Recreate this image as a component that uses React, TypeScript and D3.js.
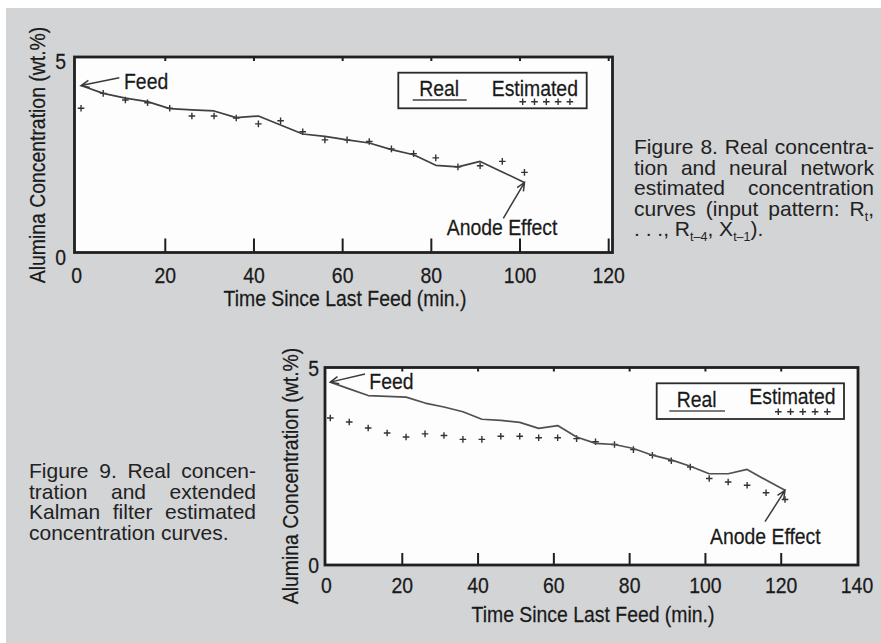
import { useEffect, useRef } from "react";
import * as d3 from "d3";

const W = 881;
const H = 643;

// Figure 8: neural network estimate (minutes since last feed, wt.% alumina)
const fig8Minutes = [1, 6, 11, 16, 21, 26, 31, 36, 41, 46, 51, 56, 61, 66, 71, 76, 81, 86, 91, 96, 101];
const fig8Real = [4.27, 4.07, 3.95, 3.86, 3.68, 3.65, 3.62, 3.45, 3.49, 3.26, 3.03, 2.97, 2.88, 2.8, 2.63, 2.5, 2.23, 2.19, 2.33, 2.06, 1.79];
const fig8Estimated = [3.69, 4.07, 3.9, 3.83, 3.69, 3.49, 3.49, 3.44, 3.29, 3.37, 3.09, 2.88, 2.88, 2.84, 2.65, 2.53, 2.42, 2.19, 2.22, 2.33, 2.05];
const fig8XTicks = [0, 20, 40, 60, 80, 100, 120];

// Figure 9: extended Kalman filter estimate
const fig9Minutes = [1, 6, 11, 16, 21, 26, 31, 36, 41, 46, 51, 56, 61, 66, 71, 76, 81, 86, 91, 96, 101, 106, 111, 116, 121];
const fig9Real = [4.63, 4.46, 4.29, 4.27, 4.25, 4.1, 4.0, 3.88, 3.69, 3.66, 3.61, 3.46, 3.53, 3.24, 3.08, 3.05, 2.95, 2.78, 2.66, 2.5, 2.31, 2.31, 2.42, 2.15, 1.89];
const fig9Estimated = [3.72, 3.62, 3.47, 3.34, 3.24, 3.32, 3.28, 3.18, 3.18, 3.26, 3.26, 3.22, 3.22, 3.2, 3.12, 3.05, 2.92, 2.78, 2.64, 2.48, 2.19, 2.1, 2.02, 1.83, 1.66];
const fig9XTicks = [0, 20, 40, 60, 80, 100, 120, 140];

const yTicks = [0, 5];

const xTitle = "Time Since Last Feed (min.)";
const yTitle = "Alumina Concentration (wt.%)";
const legendLabels = ["Real", "Estimated"];

const fig8Caption = [
  "Figure 8. Real concentra-",
  "tion and neural network",
  "estimated concentration",
  "curves (input pattern: R_{t},",
  ". . ., R_{t\u20134}, X_{t\u20131}).",
];
const fig9Caption = [
  "Figure 9. Real concen-",
  "tration and extended",
  "Kalman filter estimated",
  "concentration curves.",
];

const FONT = "'Liberation Sans', Arial, Helvetica, sans-serif";
const INK = "#1a1a1a";
const SQUEEZE = 0.87;
const CHART_FONT = 22.3;

type Pt = [number, number];
type Panel = {
  minutes: number[];
  real: number[];
  estimated: number[];
  xTicks: number[];
  box: { x0: number; x1: number; y0: number; y1: number };
  xRange: [number, number];
  tickLen: number;
  tickLabelY: number;
  xTitleAt: Pt;
  yTitleAt: Pt;
  yTickX: number;
  yTickDy: number;
  lineColor: string;
  legend: {
    rect: [number, number, number, number];
    realAt: Pt;
    sample: [number, number, number];
    estAt: Pt;
    crossX0: number;
    crossDx: number;
    crossY: number;
  };
  feed: { tail: Pt; text: Pt };
  anode: { tail: Pt; text: Pt };
};

const fig8Panel: Panel = {
  minutes: fig8Minutes,
  real: fig8Real,
  estimated: fig8Estimated,
  xTicks: fig8XTicks,
  box: { x0: 74.5, x1: 612.5, y0: 57, y1: 252.5 },
  xRange: [76.6, 608.7],
  tickLen: 14,
  tickLabelY: 283,
  xTitleAt: [345, 306],
  yTitleAt: [45, 155],
  yTickX: 66,
  yTickDy: 12,
  lineColor: "#404040",
  legend: {
    rect: [398.3, 72.7, 188.4, 35.6],
    realAt: [419.3, 96],
    sample: [412.7, 466.7, 100],
    estAt: [491.7, 96],
    crossX0: 522.7,
    crossDx: 11.8,
    crossY: 101.7,
  },
  feed: { tail: [119.3, 77.7], text: [124, 89] },
  anode: { tail: [503.3, 218.3], text: [446.7, 235] },
};

const fig9Panel: Panel = {
  minutes: fig9Minutes,
  real: fig9Real,
  estimated: fig9Estimated,
  xTicks: fig9XTicks,
  box: { x0: 325, x1: 858, y0: 367.5, y1: 565 },
  xRange: [326.5, 857],
  tickLen: 12,
  tickLabelY: 593,
  xTitleAt: [593, 622],
  yTitleAt: [298, 476],
  yTickX: 319,
  yTickDy: 8,
  lineColor: "#505050",
  legend: {
    rect: [656.7, 383.3, 187.3, 35.7],
    realAt: [676.7, 406.7],
    sample: [669.3, 725, 411],
    estAt: [749.3, 403.5],
    crossX0: 778.3,
    crossDx: 12.25,
    crossY: 411.7,
  },
  feed: { tail: [365, 374], text: [369.3, 389.3] },
  anode: { tail: [765, 521.7], text: [710, 544] },
};

type Sel = d3.Selection<any, unknown, null, undefined>;

function chartText(g: Sel, text: string, at: Pt, anchor: string, rotate = 0) {
  g.append("text")
    .attr(
      "transform",
      `translate(${at[0]},${at[1]})${rotate ? ` rotate(${rotate})` : ""} scale(${SQUEEZE},1)`
    )
    .attr("text-anchor", anchor)
    .attr("font-family", FONT)
    .attr("font-size", CHART_FONT)
    .attr("fill", INK)
    .attr("stroke", INK)
    .attr("stroke-width", 0.25)
    .text(text);
}

function crossPath(x: number, y: number, s: number) {
  return `M${x - s},${y}H${x + s}M${x},${y - s}V${y + s}`;
}

function arrow(g: Sel, tail: Pt, tip: Pt) {
  const ang = Math.atan2(tip[1] - tail[1], tip[0] - tail[0]);
  const len = 9;
  const spread = 0.42;
  const p = d3.path();
  p.moveTo(tail[0], tail[1]);
  p.lineTo(tip[0], tip[1]);
  p.moveTo(tip[0] - len * Math.cos(ang - spread), tip[1] - len * Math.sin(ang - spread));
  p.lineTo(tip[0], tip[1]);
  p.lineTo(tip[0] - len * Math.cos(ang + spread), tip[1] - len * Math.sin(ang + spread));
  g.append("path")
    .attr("d", p.toString())
    .attr("fill", "none")
    .attr("stroke", "#3a3a3a")
    .attr("stroke-width", 1.5);
}

function drawPanel(svg: Sel, c: Panel) {
  const g = svg.append("g");
  const x = d3
    .scaleLinear()
    .domain([0, c.xTicks[c.xTicks.length - 1]])
    .range(c.xRange);
  const y = d3.scaleLinear().domain([0, 5]).range([c.box.y1, c.box.y0]);
  const { x0, x1, y0, y1 } = c.box;

  g.append("rect")
    .attr("x", x0)
    .attr("y", y0)
    .attr("width", x1 - x0)
    .attr("height", y1 - y0)
    .attr("fill", "#fdfdfd");

  // estimated series as plus markers
  g.append("path")
    .attr(
      "d",
      c.minutes.map((m, i) => crossPath(x(m), y(c.estimated[i]), 3.3)).join("")
    )
    .attr("stroke", "#333")
    .attr("stroke-width", 1.4)
    .attr("fill", "none");

  // real series
  const line = d3
    .line<number>()
    .x((_, i) => x(c.minutes[i]))
    .y((v) => y(v));
  g.append("path")
    .attr("d", line(c.real))
    .attr("fill", "none")
    .attr("stroke", c.lineColor)
    .attr("stroke-width", 1.7)
    .attr("stroke-linejoin", "round");

  // ticks: long ones inside the bottom edge, short ones under the top edge
  const inner = c.xTicks.filter((t) => t > 0 && x(t) < x1 - 3);
  const ticks = g.append("g").attr("stroke", "#1e1e1e").attr("stroke-width", 2);
  inner.forEach((t) => {
    ticks
      .append("line")
      .attr("x1", x(t))
      .attr("x2", x(t))
      .attr("y1", y1)
      .attr("y2", y1 - c.tickLen);
    ticks
      .append("line")
      .attr("x1", x(t))
      .attr("x2", x(t))
      .attr("y1", y0)
      .attr("y2", y0 + 4);
  });

  g.append("rect")
    .attr("x", x0)
    .attr("y", y0)
    .attr("width", x1 - x0)
    .attr("height", y1 - y0)
    .attr("fill", "none")
    .attr("stroke", "#202020")
    .attr("stroke-width", 2.8);

  c.xTicks.forEach((t) => chartText(g, String(t), [x(t), c.tickLabelY], "middle"));
  yTicks.forEach((t) => chartText(g, String(t), [c.yTickX, y(t) + c.yTickDy], "end"));

  chartText(g, xTitle, c.xTitleAt, "middle");
  chartText(g, yTitle, c.yTitleAt, "middle", -90);

  // legend
  const L = c.legend;
  g.append("rect")
    .attr("x", L.rect[0])
    .attr("y", L.rect[1])
    .attr("width", L.rect[2])
    .attr("height", L.rect[3])
    .attr("fill", "#fdfdfd")
    .attr("stroke", "#2a2a2a")
    .attr("stroke-width", 1.8);
  chartText(g, legendLabels[0], L.realAt, "start");
  chartText(g, legendLabels[1], L.estAt, "start");
  g.append("line")
    .attr("x1", L.sample[0])
    .attr("x2", L.sample[1])
    .attr("y1", L.sample[2])
    .attr("y2", L.sample[2])
    .attr("stroke", c.lineColor)
    .attr("stroke-width", 1.6);
  g.append("path")
    .attr(
      "d",
      [0, 1, 2, 3, 4].map((k) => crossPath(L.crossX0 + k * L.crossDx, L.crossY, 3.3)).join("")
    )
    .attr("stroke", "#333")
    .attr("stroke-width", 1.4);

  // annotations
  const n = c.real.length - 1;
  arrow(g, c.feed.tail, [x(c.minutes[0]), y(c.real[0])]);
  chartText(g, "Feed", c.feed.text, "start");
  arrow(g, c.anode.tail, [x(c.minutes[n]), y(c.real[n])]);
  chartText(g, "Anode Effect", c.anode.text, "start");
}

const CAPTION_SIZE = 21;
const SUB_SIZE = 12.5;

function drawCaption(
  svg: Sel,
  lines: string[],
  left: number,
  right: number,
  top: number,
  lead: number
) {
  const g = svg.append("g").attr("font-family", FONT).attr("fill", "#222");
  lines.forEach((line, i) => {
    const yb = top + i * lead;
    const words = line.split(" ");
    const nodes = words.map((w) => {
      const t = g.append("text").attr("y", yb).attr("font-size", CAPTION_SIZE);
      const parts = w.split(/(_\{[^}]*\})/).filter((s) => s.length > 0);
      let shifted = false;
      parts.forEach((s) => {
        if (s.startsWith("_{")) {
          t.append("tspan")
            .attr("font-size", SUB_SIZE)
            .attr("dy", shifted ? 0 : 5)
            .text(s.slice(2, -1));
          shifted = true;
        } else {
          t.append("tspan")
            .attr("dy", shifted ? -5 : 0)
            .text(s);
          shifted = false;
        }
      });
      return t;
    });
    const widths = nodes.map((t) => (t.node() as SVGTextElement).getComputedTextLength());
    const total = d3.sum(widths);
    const last = i === lines.length - 1;
    const gap = last || words.length < 2 ? CAPTION_SIZE * 0.278 : (right - left - total) / (words.length - 1);
    let xc = left;
    nodes.forEach((t, k) => {
      t.attr("x", xc);
      xc += widths[k] + gap;
    });
  });
}

export default function App() {
  const ref = useRef<SVGSVGElement>(null);
  useEffect(() => {
    const svg = d3.select(ref.current) as unknown as Sel;
    svg.selectAll("*").remove();
    svg.append("rect").attr("width", W).attr("height", H).attr("fill", "#ffffff");
    svg
      .append("rect")
      .attr("x", 6)
      .attr("y", 8)
      .attr("width", W - 6)
      .attr("height", H - 8)
      .attr("fill", "#d3d4d6");
    drawPanel(svg, fig8Panel);
    drawPanel(svg, fig9Panel);
    drawCaption(svg, fig8Caption, 634, 874, 154, 20.6);
    drawCaption(svg, fig9Caption, 29, 256, 478, 20.7);
  }, []);
  return (
    <svg
      ref={ref}
      width={W}
      height={H}
      style={{ position: "absolute", left: 0, top: 0, display: "block" }}
    />
  );
}
